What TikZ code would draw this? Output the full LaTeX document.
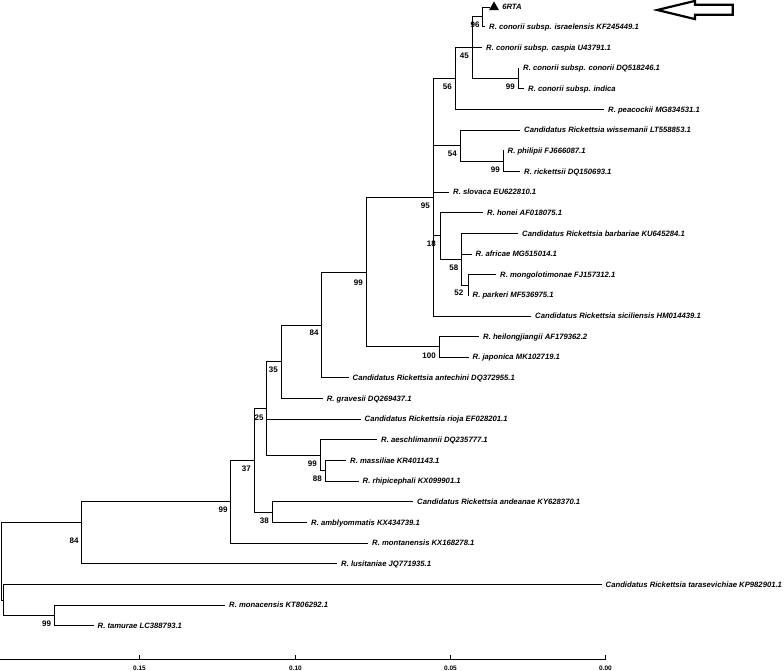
\documentclass[tikz,border=0pt]{standalone}
\usepackage{fontspec}
\setmainfont{Liberation Sans}
\usetikzlibrary{positioning,shapes.geometric}

\begin{document}
\begin{tikzpicture}[
    x=1pt, y=-1pt,
    leaf/.style={anchor=west, inner xsep=4pt, inner ysep=0pt, text height=5.5pt, text depth=0pt, font=\fontsize{7.7}{9}\selectfont\bfseries\itshape},
    boot/.style={anchor=east, inner sep=0pt, xshift=-3pt, yshift=-8.3pt, font=\fontsize{8}{9}\selectfont\bfseries},
    branch/.style={line width=0.8pt},
    axisline/.style={line width=0.8pt},
    scalelab/.style={anchor=north, inner sep=0pt, font=\fontsize{6.5}{7}\selectfont\bfseries},
    marker/.style={regular polygon, regular polygon sides=3, fill=black, inner sep=0pt, minimum size=11.5pt},
    pointer/.style={line width=2.2pt, line join=miter, fill=white}
]
    \useasboundingbox (0,0) rectangle (784,671);

    % internal nodes
    \coordinate (n96) at (482.7,16.33);
    \coordinate (n99a) at (518,78.31);
    \coordinate (n45) at (472,47.32);
    \coordinate (n56) at (455,78.31);
    \coordinate (n99b) at (503,160.95);
    \coordinate (n54) at (460,145.46);
    \coordinate (n52) at (468,284.91);
    \coordinate (n58) at (461.5,259.09);
    \coordinate (n18) at (440,235.85);
    \coordinate (n95) at (433,197.11);
    \coordinate (n100) at (439,346.89);
    \coordinate (n99f) at (366,272);
    \coordinate (n84a) at (321.7,324.94);
    \coordinate (n35) at (281,361.74);
    \coordinate (n88) at (325,470.85);
    \coordinate (n99c) at (320,455.36);
    \coordinate (n25) at (266.7,408.55);
    \coordinate (n38) at (272,512.17);
    \coordinate (n37) at (254,460.36);
    \coordinate (n99d) at (230.7,501.76);
    \coordinate (n84b) at (81.7,522.7);
    \coordinate (n99e) at (54.3,615.47);
    \coordinate (nlow) at (3.3,599.98);
    \coordinate (root) at (1,561.3);

    % leaves
    \node[marker] (tri) at (494,7.2) {};
    \node[leaf, right=0.5pt of tri] (l1) {6RTA};
    \node[leaf] (l2) at (485,26.66) {R. conorii subsp. israelensis KF245449.1};
    \node[leaf] (l3) at (482,47.32) {R. conorii subsp. caspia U43791.1};
    \node[leaf] (l4) at (519,67.98) {R. conorii subsp. conorii DQ518246.1};
    \node[leaf] (l5) at (524,88.64) {R. conorii subsp. indica};
    \node[leaf] (l6) at (604,109.3) {R. peacockii MG834531.1};
    \node[leaf] (l7) at (520,129.96) {Candidatus Rickettsia wissemanii LT558853.1};
    \node[leaf] (l8) at (503.5,150.62) {R. philipii FJ666087.1};
    \node[leaf] (l9) at (520,171.28) {R. rickettsii DQ150693.1};
    \node[leaf] (l10) at (449,191.94) {R. slovaca EU622810.1};
    \node[leaf] (l11) at (483,212.6) {R. honei AF018075.1};
    \node[leaf] (l12) at (518,233.26) {Candidatus Rickettsia barbariae KU645284.1};
    \node[leaf] (l13) at (471.5,253.92) {R. africae MG515014.1};
    \node[leaf] (l14) at (496,274.58) {R. mongolotimonae FJ157312.1};
    \node[leaf] (l15) at (468.5,295.24) {R. parkeri MF536975.1};
    \node[leaf] (l16) at (531,315.9) {Candidatus Rickettsia siciliensis HM014439.1};
    \node[leaf] (l17) at (479,336.56) {R. heilongjiangii AF179362.2};
    \node[leaf] (l18) at (468.5,357.22) {R. japonica MK102719.1};
    \node[leaf] (l19) at (348.5,377.88) {Candidatus Rickettsia antechini DQ372955.1};
    \node[leaf] (l20) at (322.7,398.54) {R. gravesii DQ269437.1};
    \node[leaf] (l21) at (360.5,419.2) {Candidatus Rickettsia rioja EF028201.1};
    \node[leaf] (l22) at (377,439.86) {R. aeschlimannii DQ235777.1};
    \node[leaf] (l23) at (346,460.52) {R. massiliae KR401143.1};
    \node[leaf] (l24) at (358.5,481.18) {R. rhipicephali KX099901.1};
    \node[leaf] (l25) at (413,501.84) {Candidatus Rickettsia andeanae KY628370.1};
    \node[leaf] (l26) at (307,522.5) {R. amblyommatis KX434739.1};
    \node[leaf] (l27) at (368,543.16) {R. montanensis KX168278.1};
    \node[leaf] (l28) at (337,563.82) {R. lusitaniae JQ771935.1};
    \node[leaf] (l29) at (601.5,584.48) {Candidatus Rickettsia tarasevichiae KP982901.1};
    \node[leaf] (l30) at (225,605.14) {R. monacensis KT806292.1};
    \node[leaf] (l31) at (93.5,625.8) {R. tamurae LC388793.1};

    % bootstrap values
    \node[boot] (bs96) at (n96) {96};
    \node[boot] (bs45) at (n45) {45};
    \node[boot] (bs99a) at (n99a) {99};
    \node[boot] (bs56) at (n56) {56};
    \node[boot] (bs54) at (n54) {54};
    \node[boot] (bs99b) at (n99b) {99};
    \node[boot] (bs95) at (n95) {95};
    \node[boot, xshift=-1pt] (bs18) at (n18) {18};
    \node[boot] (bs58) at (n58) {58};
    \node[boot, xshift=-1.5pt] (bs52) at (n52) {52};
    \node[boot, yshift=-2.2pt] (bs99f) at (n99f) {99};
    \node[boot, yshift=-1pt] (bs100) at (n100) {100};
    \node[boot] (bs84a) at (n84a) {84};
    \node[boot] (bs35) at (n35) {35};
    \node[boot, yshift=-1pt] (bs25) at (n25) {25};
    \node[boot] (bs99c) at (n99c) {99};
    \node[boot] (bs88) at (n88) {88};
    \node[boot] (bs37) at (n37) {37};
    \node[boot] (bs38) at (n38) {38};
    \node[boot] (bs99d) at (n99d) {99};
    \node[boot, yshift=-9.8pt] (bs84b) at (n84b) {84};
    \node[boot] (bs99e) at (n99e) {99};

    % branches
    \draw[branch] (n96) |- (tri);
    \draw[branch] (n96) |- (l2);
    \draw[branch] (n45) |- (n96);
    \draw[branch] (n45) |- (l3);
    \draw[branch] (n45) |- (n99a);
    \draw[branch] (n99a) |- (l4);
    \draw[branch] (n99a) |- (l5);
    \draw[branch] (n56) |- (n45);
    \draw[branch] (n56) |- (l6);
    \draw[branch] (n54) |- (l7);
    \draw[branch] (n54) |- (n99b);
    \draw[branch] (n99b) |- (l8);
    \draw[branch] (n99b) |- (l9);
    \draw[branch] (n95) |- (n56);
    \draw[branch] (n95) |- (n54);
    \draw[branch] (n95) |- (l10);
    \draw[branch] (n95) |- (n18);
    \draw[branch] (n95) |- (l16);
    \draw[branch] (n18) |- (l11);
    \draw[branch] (n18) |- (n58);
    \draw[branch] (n58) |- (l12);
    \draw[branch] (n58) |- (l13);
    \draw[branch] (n58) |- (n52);
    \draw[branch] (n52) |- (l14);
    \draw[branch] (n52) |- (l15);
    \draw[branch] (n99f) |- (n95);
    \draw[branch] (n99f) |- (n100);
    \draw[branch] (n100) |- (l17);
    \draw[branch] (n100) |- (l18);
    \draw[branch] (n84a) |- (n99f);
    \draw[branch] (n84a) |- (l19);
    \draw[branch] (n35) |- (n84a);
    \draw[branch] (n35) |- (l20);
    \draw[branch] (n25) |- (n35);
    \draw[branch] (n25) |- (l21);
    \draw[branch] (n25) |- (n99c);
    \draw[branch] (n99c) |- (l22);
    \draw[branch] (n99c) |- (n88);
    \draw[branch] (n88) |- (l23);
    \draw[branch] (n88) |- (l24);
    \draw[branch] (n37) |- (n25);
    \draw[branch] (n37) |- (n38);
    \draw[branch] (n38) |- (l25);
    \draw[branch] (n38) |- (l26);
    \draw[branch] (n99d) |- (n37);
    \draw[branch] (n99d) |- (l27);
    \draw[branch] (n84b) |- (n99d);
    \draw[branch] (n84b) |- (l28);
    \draw[branch] (root) |- (n84b);
    \draw[branch] (root) |- (nlow);
    \draw[branch] (nlow) |- (l29);
    \draw[branch] (nlow) |- (n99e);
    \draw[branch] (n99e) |- (l30);
    \draw[branch] (n99e) |- (l31);

    % scale
    \draw[axisline] (0,659) -- (605.5,659);
    \foreach \x/\v [count=\i] in {139.5/0.15, 295.5/0.10, 450.5/0.05, 605.5/0.00}{
        \draw[axisline] (\x,659) -- (\x,655);
        \node[scalelab] (tick\i) at (\x,665.5) {\v};
    }

    % arrow pointing at the sample
    \draw[pointer] (657.3,10) -- (695,0.9) -- (695,4.7) -- (732.7,4.7) -- (732.7,14.7) -- (695,14.7) -- (695,19.1) -- cycle;
\end{tikzpicture}
\end{document}
